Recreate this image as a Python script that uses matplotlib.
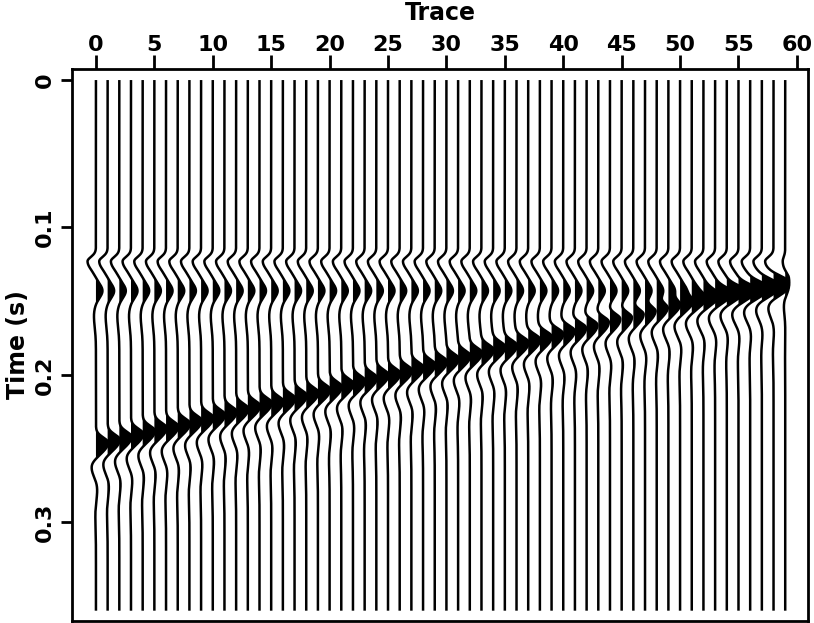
import numpy as np
import matplotlib
matplotlib.use("Agg")
import matplotlib.pyplot as plt

OUT = "out.png"

# Trace numbers and picked arrival times (s) of the two events
TRACES = list(range(60))
FLAT_TIMES = [0.143] * 60
DIP_TIMES = [0.246, 0.244, 0.242, 0.240, 0.238, 0.236, 0.235, 0.233, 0.231, 0.229,
             0.227, 0.225, 0.223, 0.221, 0.219, 0.218, 0.216, 0.214, 0.212, 0.210,
             0.208, 0.206, 0.204, 0.202, 0.200, 0.199, 0.197, 0.195, 0.193, 0.191,
             0.189, 0.187, 0.185, 0.183, 0.181, 0.180, 0.178, 0.176, 0.174, 0.172,
             0.170, 0.168, 0.166, 0.164, 0.162, 0.161, 0.159, 0.157, 0.155, 0.153,
             0.151, 0.149, 0.147, 0.145, 0.143, 0.142, 0.140, 0.138, 0.136, 0.134]
TRACE_GAIN = [1.0] * 59 + [0.3]

# Wavelet lobes: (offset s, amplitude in trace spacings, width before, width after)
FLAT_LOBES = [(-0.020, -0.72, 0.0030, 0.0055), (0.0, 0.56, 0.0047, 0.0047), (0.017, -0.17, 0.0060, 0.0080)]
DIP_LOBES = [(0.0, 1.05, 0.0035, 0.0065), (0.016, -0.42, 0.0050, 0.0070),
             (0.030, 0.15, 0.0060, 0.0080), (0.047, -0.06, 0.0080, 0.0100)]

T_MAX = 0.36


def wavelet(t, t0, lobes):
    w = np.zeros_like(t)
    for off, amp, wb, wa in lobes:
        d = t - (t0 + off)
        s = np.where(d < 0, wb, wa)
        w += amp * np.exp(-0.5 * (d / s) ** 2)
    return w


def main():
    plt.rcParams["font.family"] = "DejaVu Sans"
    plt.rcParams["font.weight"] = "bold"

    t = np.linspace(0.0, T_MAX, 1441)

    fig = plt.figure(figsize=(8.14, 6.23), dpi=100)
    ax = fig.add_axes([72 / 814, 2 / 623, 736 / 814, 552 / 623])

    for k, tf, td, g in zip(TRACES, FLAT_TIMES, DIP_TIMES, TRACE_GAIN):
        a = g * (wavelet(t, tf, FLAT_LOBES) + wavelet(t, td, DIP_LOBES))
        ax.fill_betweenx(t, k, k + a, where=a > 0, color="black", linewidth=0, interpolate=True)
        ax.plot(k + a, t, color="black", lw=1.8, solid_capstyle="butt")

    ax.set_xlim(-2.05, 60.95)
    ax.set_ylim(0.367, -0.0075)
    ax.set_xticks(range(0, 61, 5))
    ax.set_yticks([0, 0.1, 0.2, 0.3])
    ax.set_yticklabels(["0", "0.1", "0.2", "0.3"])

    ax.xaxis.set_ticks_position("top")
    ax.tick_params(axis="both", direction="out", width=2, labelsize=16)
    ax.tick_params(axis="x", length=10, pad=0)
    ax.tick_params(axis="y", length=8, pad=4)
    for lab in ax.get_yticklabels():
        lab.set_rotation(90)
        lab.set_va("center")

    # Top label placed in figure pixels so it sits above the tick labels
    fig.text(440 / 814, 1 - 20 / 623, "Trace", fontsize=17, fontweight="bold",
             ha="center", va="baseline")
    ax.set_ylabel("Time (s)", fontsize=17, fontweight="bold", labelpad=4)

    for spine in ax.spines.values():
        spine.set_linewidth(2.0)

    fig.savefig(OUT, dpi=100, facecolor="white")
    plt.close(fig)


if __name__ == "__main__":
    main()
